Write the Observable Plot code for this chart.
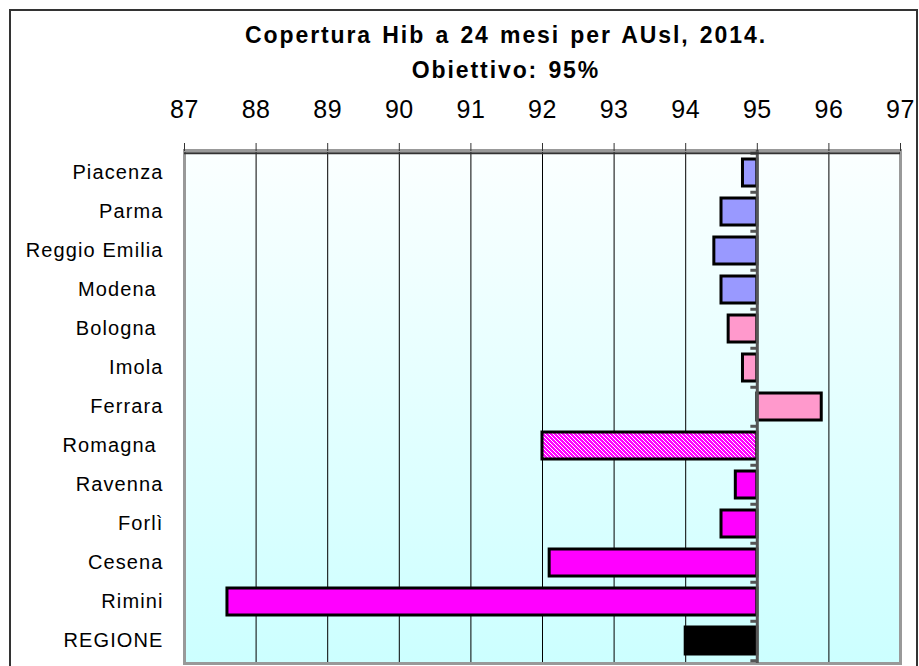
<!DOCTYPE html>
<html>
<head>
<meta charset="utf-8">
<script src="https://cdn.jsdelivr.net/npm/d3@7"></script>
<script src="https://cdn.jsdelivr.net/npm/@observablehq/plot@0.6"></script>
<style>
  body { margin: 0; background: white; }
  #wrap { position: relative; width: 919px; height: 666px; overflow: hidden; background: white; font-family: "Liberation Sans", Arial, sans-serif; }
  #outer { position: absolute; left: 9px; top: 9px; width: 909px; height: 700px; border: 2px solid #333; box-sizing: border-box; }
  #title { position: absolute; left: 0; top: 18px; width: 1012px; text-align: center; font-weight: bold; font-size: 23px; line-height: 35px; letter-spacing: 1.9px; word-spacing: 2px; color: black; }
  #chart { position: absolute; left: 0; top: 85px; }
  g[aria-label="y-axis tick label"] text { letter-spacing: 1.1px; white-space: pre; }
  g[aria-label="x-axis tick label"] text { letter-spacing: 0.5px; }
</style>
</head>
<body>
<div id="wrap">
  <div id="outer"></div>
  <div id="title">Copertura Hib a 24 mesi per AUsl, 2014.<br>Obiettivo: 95%</div>
  <div id="chart"></div>
</div>
<script>
const categories = ["Piacenza", "Parma", "Reggio Emilia", "Modena ", "Bologna ", "Imola", "Ferrara", "Romagna ", "Ravenna", "Forlì", "Cesena", "Rimini", "REGIONE"];
const values = [94.8, 94.5, 94.4, 94.5, 94.6, 94.8, 95.9, 92.0, 94.7, 94.5, 92.1, 87.6, 94.0];
const groups = ["Emilia Nord", "Emilia Nord", "Emilia Nord", "Emilia Nord", "Emilia Centro", "Emilia Centro", "Emilia Centro", "Romagna", "Romagna AUsl", "Romagna AUsl", "Romagna AUsl", "Romagna AUsl", "Regione"];
const groupDomain = ["Emilia Nord", "Emilia Centro", "Romagna", "Romagna AUsl", "Regione"];
const groupColors = ["#9999ff", "#ff99cc", "url(#hatch)", "#ff00ff", "#000000"];
const xTicks = [87, 88, 89, 90, 91, 92, 93, 94, 95, 96, 97];
const gridTicks = [88, 89, 90, 91, 92, 93, 94, 95, 96];
const target = 95;

const data = categories.map((name, i) => ({name, value: values[i], group: groups[i]}));

const W = 919, H = 581, mTop = 65, mBottom = 3, mLeft = 184, mRight = 19;
const step = (H - mTop - mBottom) / categories.length;

const chart = Plot.plot({
  width: W,
  height: H,
  marginTop: mTop,
  marginBottom: mBottom,
  marginLeft: mLeft,
  marginRight: mRight,
  style: {fontFamily: "'Liberation Sans', Arial, sans-serif", fontSize: "20px", background: "transparent", color: "black", overflow: "visible"},
  x: {domain: [87, 97]},
  y: {domain: categories, paddingInner: 0.3, paddingOuter: 0.15},
  color: {type: "ordinal", domain: groupDomain, range: groupColors},
  marks: [
    Plot.frame({fill: "url(#bg)"}),
    Plot.gridX({ticks: gridTicks, stroke: "black", strokeOpacity: 1, strokeWidth: 1}),
    Plot.frame({stroke: "#999", strokeWidth: 3}),
    Plot.barX(data, {y: "name", x1: target, x2: "value", fill: "group", stroke: "black", strokeWidth: 3}),
    Plot.ruleX([target], {stroke: "#555", strokeWidth: 3}),
    Plot.ruleY(categories, {y: d => d, x1: 94.91, x2: target, dy: -step / 2, stroke: "#555", strokeWidth: 3}),
    Plot.ruleY(categories.slice(-1), {y: d => d, x1: 94.91, x2: target, dy: step / 2, stroke: "#555", strokeWidth: 3}),
    Plot.ruleY(categories.slice(0, 1), {y: d => d, dy: -step / 2, stroke: "#333", strokeWidth: 2}),
    Plot.axisX({anchor: "top", ticks: xTicks, tickSize: 8, tickPadding: 25, fontSize: 25, stroke: "#333", label: null, tickFormat: d => String(d)}),
    Plot.axisY({anchor: "left", tickSize: 0, tickPadding: 21, fontSize: 20, label: null})
  ]
});

const ns = "http://www.w3.org/2000/svg";
const defs = document.createElementNS(ns, "defs");
defs.innerHTML = `
  <linearGradient id="bg" x1="0" y1="0" x2="0" y2="1">
    <stop offset="0" stop-color="#fbffff"/>
    <stop offset="1" stop-color="#ccffff"/>
  </linearGradient>
  <pattern id="hatch" patternUnits="userSpaceOnUse" width="4" height="4">
    <rect width="4" height="4" fill="#ff00ff"/>
    <path d="M0,0L4,4M-1,3L1,5M3,-1L5,1" stroke="white" stroke-width="1"/>
  </pattern>`;
chart.insertBefore(defs, chart.firstChild);
document.getElementById("chart").appendChild(chart);
</script>
</body>
</html>
